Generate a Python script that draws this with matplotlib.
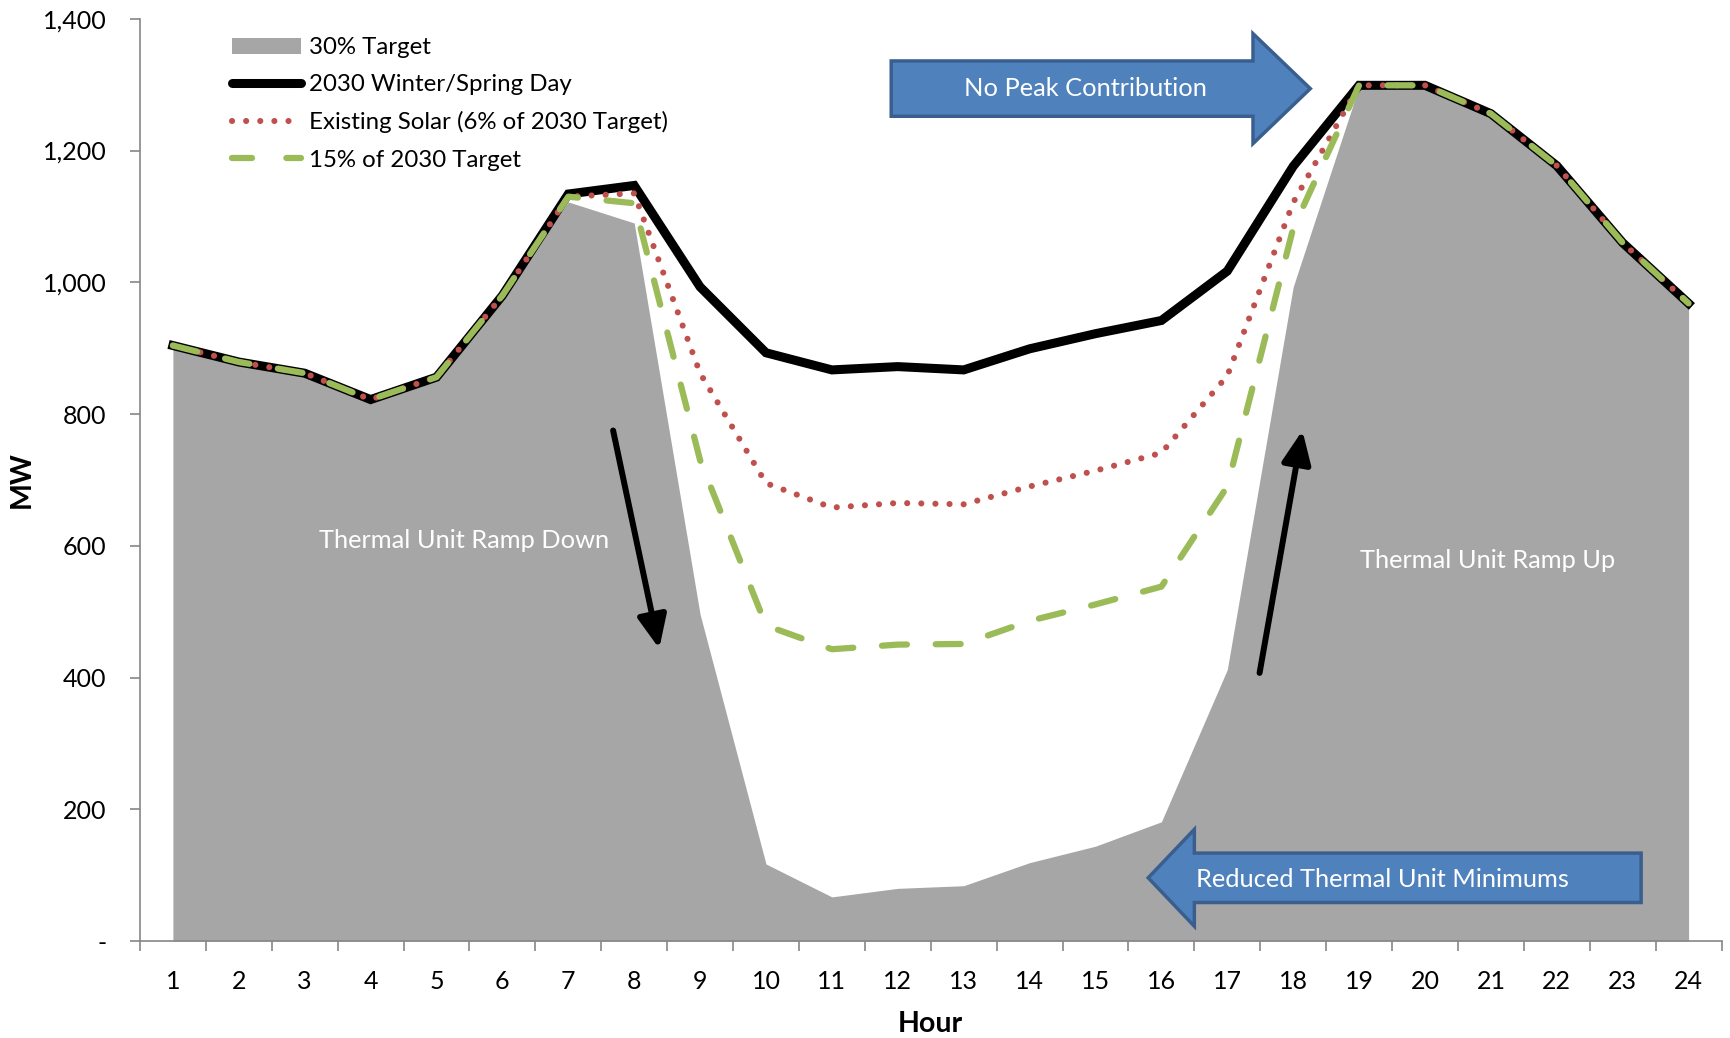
import numpy as np
import matplotlib.pyplot as plt
from matplotlib.patches import FancyArrow, Patch
from matplotlib.lines import Line2D

plt.rcParams['font.family'] = ['Lato', 'DejaVu Sans']

hours = np.arange(1, 25)

# hourly load (MW)
winter_spring_day = [904, 879, 862, 822, 856, 980, 1134, 1147, 993, 893, 867, 872,
                     867, 899, 922, 942, 1017, 1176, 1299, 1299, 1256, 1177, 1060, 968]
existing_solar = [904, 879, 862, 822, 856, 980, 1130, 1135, 862, 695, 658, 665,
                  663, 690, 714, 741, 858, 1121, 1299, 1299, 1256, 1177, 1060, 968]
target_15 = [904, 879, 862, 822, 856, 980, 1130, 1120, 730, 479, 443, 450,
             451, 486, 511, 538, 690, 1082, 1299, 1299, 1256, 1177, 1060, 968]
target_30 = [904, 879, 862, 822, 856, 980, 1122, 1090, 496, 117, 67, 80,
             84, 119, 144, 181, 412, 993, 1297, 1297, 1256, 1177, 1060, 968]

yticks = [0, 200, 400, 600, 800, 1000, 1200, 1400]
ytick_labels = ['-', '200', '400', '600', '800', '1,000', '1,200', '1,400']

gray = '#A6A6A6'
red = '#C0504D'
green = '#9BBB59'
blue = '#4F81BD'
blue_edge = '#3A5F8F'
axis_gray = '#868686'

dotted = (0, (0.01, 2.3))
dashed = (0, (4, 4.6))

fig = plt.figure(figsize=(17.3, 10.38), dpi=100)
ax = fig.add_axes([0.0809, 0.0934, 0.9142, 0.8885])

ax.fill_between(hours, target_30, 0, color=gray, lw=0, zorder=1)
ax.plot(hours, winter_spring_day, color='black', lw=6.5, solid_joinstyle='miter', zorder=3)
ax.plot(hours, existing_solar, color=red, lw=4.4, linestyle=dotted,
        dash_capstyle='round', zorder=4)
ax.plot(hours, target_15, color=green, lw=4.5, linestyle=dashed,
        dash_capstyle='round', zorder=5)

# ramp arrows
ramp_arrow = dict(arrowstyle='-|>,head_length=0.9,head_width=0.4', color='black',
                  lw=4.3, mutation_scale=22, shrinkA=0, shrinkB=0)
ax.annotate('', xy=(8.38, 444), xytext=(7.68, 775), arrowprops=ramp_arrow, zorder=6)
ax.annotate('', xy=(18.14, 775), xytext=(17.49, 407), arrowprops=ramp_arrow, zorder=6)
ax.text(5.42, 608, 'Thermal Unit Ramp Down', color='white', fontsize=18.3,
        ha='center', va='center', zorder=6)
ax.text(20.95, 578, 'Thermal Unit Ramp Up', color='white', fontsize=18.3,
        ha='center', va='center', zorder=6)

# block arrows
ax.add_patch(FancyArrow(11.90, 1294, 18.26 - 11.90, 0, width=84, head_width=167,
                        head_length=0.87, length_includes_head=True,
                        fc=blue, ec=blue_edge, lw=2.5, zorder=7))
ax.text(14.84, 1294, 'No Peak Contribution', color='white', fontsize=18.3,
        ha='center', va='center', zorder=8)
ax.add_patch(FancyArrow(23.28, 96, 15.80 - 23.28, 0, width=75, head_width=147,
                        head_length=0.70, length_includes_head=True,
                        fc=blue, ec=blue_edge, lw=2.5, zorder=7))
ax.text(19.35, 94, 'Reduced Thermal Unit Minimums', color='white', fontsize=18.3,
        ha='center', va='center', zorder=8)

ax.set_xlim(0.5, 24.5)
ax.set_ylim(0, 1400)
ax.set_yticks(yticks)
ax.set_yticklabels(ytick_labels)
ax.set_xticks(hours)
ax.set_xticks(np.arange(0.5, 25, 1), minor=True)
ax.tick_params(axis='x', which='major', length=0, pad=21, labelsize=18)
ax.tick_params(axis='x', which='minor', length=7, color=axis_gray, width=1.2)
ax.tick_params(axis='y', length=7, color=axis_gray, width=1.2, pad=17, labelsize=18)
for side in ['top', 'right']:
    ax.spines[side].set_visible(False)
for side in ['left', 'bottom']:
    ax.spines[side].set_color(axis_gray)
    ax.spines[side].set_linewidth(1.2)

ax.set_xlabel('Hour', fontsize=20.5, fontweight='bold', va='center')
ax.set_ylabel('MW', fontsize=20.5, fontweight='bold', va='center')
ax.xaxis.set_label_coords(0.4995, -0.0895)
ax.yaxis.set_label_coords(-0.0746, 0.5)

handles = [
    Patch(facecolor=gray, edgecolor='none'),
    Line2D([], [], color='black', lw=6.5, solid_capstyle='round'),
    Line2D([], [], color=red, lw=4.4, linestyle=dotted, dash_capstyle='round'),
    Line2D([], [], color=green, lw=4.5, linestyle=(0, (3.2, 5.5)), dash_capstyle='round'),
]
labels = ['30% Target', '2030 Winter/Spring Day',
          'Existing Solar (6% of 2030 Target)', '15% of 2030 Target']
ax.legend(handles, labels, loc='upper left', bbox_to_anchor=(0.1218, 0.985),
          bbox_transform=fig.transFigure, frameon=False, fontsize=17.3,
          handlelength=2.85, handleheight=0.65, handletextpad=0.32, labelspacing=0.67)

fig.savefig('out.png', dpi=100)
